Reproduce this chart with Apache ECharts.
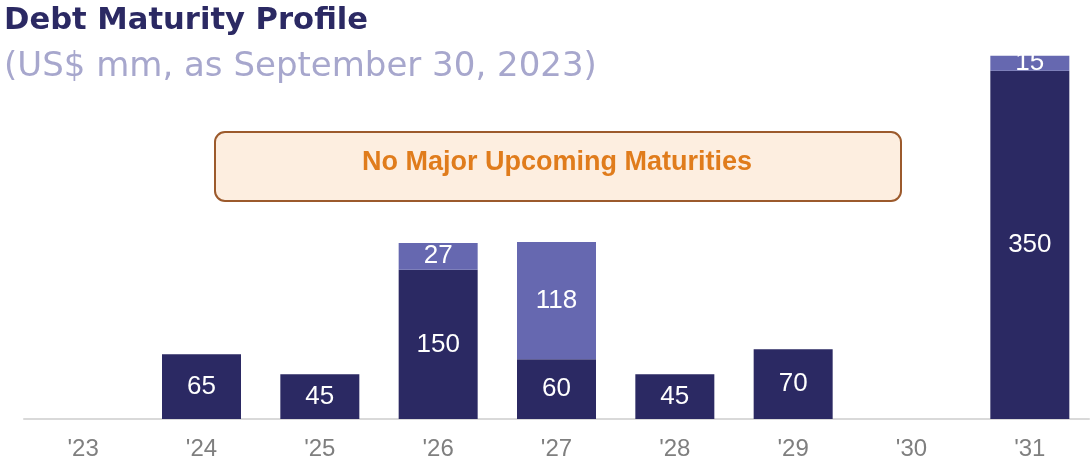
<!DOCTYPE html>
<html><head><meta charset="utf-8">
<script src="https://cdn.jsdelivr.net/npm/echarts@6/dist/echarts.min.js"></script>
<style>html,body{margin:0;padding:0;background:#fff}#c{width:1090px;height:468px}</style>
</head><body><div id="c"></div>
<script>
const categories = ["'23","'24","'25","'26","'27","'28","'29","'30","'31"];
const seriesA = [0, 65, 45, 150, 60, 45, 70, 0, 350];
const seriesB = [0, 0, 0, 27, 118, 0, 0, 0, 15];
const chart = echarts.init(document.getElementById('c'));
const lbl = {show:true, position:'inside', color:'#fff', fontSize:26, fontFamily:'Liberation Sans, Arial, sans-serif',
  formatter: p => p.value ? String(p.value) : ''};
chart.setOption({
  animation:false,
  title:[
    {text:'Debt Maturity Profile', left:-1, top:1, textStyle:{color:'#2b2963', fontSize:30.6, fontWeight:'bold', fontFamily:'DejaVu Sans, sans-serif'}},
    {text:'(US$ mm, as September 30, 2023)', left:-1, top:45, textStyle:{color:'#a7a7cd', fontSize:34, fontWeight:'normal', fontFamily:'DejaVu Sans, sans-serif'}}
  ],
  grid:{left:24, right:1, top:21, bottom:49, containLabel:false},
  xAxis:{type:'category', data:categories,
    axisLine:{lineStyle:{color:'#d9d9d9', width:2}}, axisTick:{show:false},
    axisLabel:{color:'#7f7f7f', fontSize:24, margin:18, fontFamily:'Liberation Sans, Arial, sans-serif'}},
  yAxis:{type:'value', min:0, max:400, show:false, splitLine:{show:false}},
  series:[
    {type:'bar', stack:'d', data:seriesA, barWidth:79, itemStyle:{color:'#2b2963'}, label:lbl},
    {type:'bar', stack:'d', data:seriesB, barWidth:79, itemStyle:{color:'#6668b0'}, label:lbl}
  ],
  graphic:[
    {type:'group', left:214, top:131, children:[
      {type:'rect', shape:{x:0,y:0,width:686,height:69,r:10}, style:{fill:'#fdeee0', stroke:'#9c5a2c', lineWidth:2}},
      {type:'text', x:342, y:31, style:{text:'No Major Upcoming Maturities', fill:'#e07c1c', font:'bold 27px "Liberation Sans", Arial, sans-serif', textAlign:'center', textVerticalAlign:'middle'}}
    ]}
  ]
});
</script></body></html>
